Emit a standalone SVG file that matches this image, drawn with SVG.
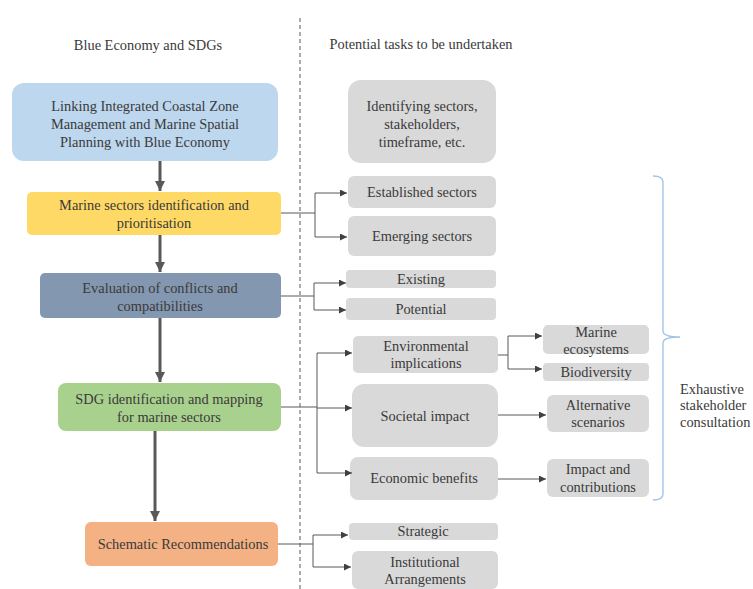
<svg xmlns="http://www.w3.org/2000/svg" width="753" height="589" viewBox="0 0 753 589">
<style>
text{font-family:'Liberation Serif','Times New Roman',serif;font-size:14.4px;fill:#3a3a3a;text-anchor:middle}
.s{text-anchor:start}
.g{fill:#d9d9d9}
.c{fill:none;stroke:#595959;stroke-width:1}
.t{fill:none;stroke:#595959;stroke-width:3}
</style>
<defs>
<marker id="a" viewBox="0 0 10 10" refX="10" refY="5" markerWidth="7" markerHeight="7" markerUnits="userSpaceOnUse" orient="auto"><path d="M0,0L10,5L0,10z" fill="#404040"/></marker>
<marker id="b" viewBox="0 0 10 10" refX="10" refY="5" markerWidth="10" markerHeight="10" markerUnits="userSpaceOnUse" orient="auto"><path d="M0,0L10,5L0,10z" fill="#595959"/></marker>
</defs>
<rect width="753" height="589" fill="#fff"/>
<line x1="300" y1="18" x2="300" y2="589" stroke="#595959" stroke-width="1" stroke-dasharray="4,3"/>
<text x="148" y="50">Blue Economy and SDGs</text>
<text x="421" y="49">Potential tasks to be undertaken</text>

<g id="n1"><rect x="12" y="83" width="266" height="78" rx="12" fill="#bdd7ee"/><text x="145" y="111">Linking Integrated Coastal Zone</text><text x="145" y="129">Management and Marine Spatial</text><text x="145" y="147">Planning with Blue Economy</text></g>
<g id="n2"><rect x="27" y="192" width="254" height="43" rx="5" fill="#ffd966"/><text x="154" y="210">Marine sectors identification and</text><text x="154" y="228">prioritisation</text></g>
<g id="n3"><rect x="40" y="273" width="241" height="45" rx="5" fill="#8497b0"/><text x="160" y="293">Evaluation of conflicts and</text><text x="160" y="311">compatibilities</text></g>
<g id="n4"><rect x="58" y="383" width="223" height="48" rx="8" fill="#a9d18e"/><text x="169" y="404">SDG identification and mapping</text><text x="169" y="422">for marine sectors</text></g>
<g id="n5"><rect x="85" y="522" width="193" height="44" rx="6" fill="#f4b183"/><text x="183" y="549">Schematic Recommendations</text></g>

<g id="r0"><rect class="g" x="348" y="80" width="148" height="83" rx="13"/><text x="422" y="111">Identifying sectors,</text><text x="422" y="129">stakeholders,</text><text x="422" y="147">timeframe, etc.</text></g>
<g id="r1"><rect class="g" x="348" y="176" width="148" height="32" rx="6"/><text x="422" y="197">Established sectors</text></g>
<g id="r2"><rect class="g" x="348" y="216" width="148" height="40" rx="6"/><text x="422" y="241">Emerging sectors</text></g>
<g id="r3"><rect class="g" x="346" y="270" width="150" height="18" rx="4"/><text x="421" y="284">Existing</text></g>
<g id="r4"><rect class="g" x="346" y="298" width="150" height="22" rx="4"/><text x="421" y="314">Potential</text></g>
<g id="r5"><rect class="g" x="353" y="336" width="145" height="37" rx="5"/><text x="426" y="351">Environmental</text><text x="426" y="368">implications</text></g>
<g id="r6"><rect class="g" x="352" y="384" width="146" height="63" rx="12"/><text x="425" y="421">Societal impact</text></g>
<g id="r7"><rect class="g" x="350" y="457" width="148" height="43" rx="8"/><text x="424" y="483">Economic benefits</text></g>
<g id="r8"><rect class="g" x="543" y="325" width="106" height="29" rx="5"/><text x="596" y="337">Marine</text><text x="596" y="354">ecosystems</text></g>
<g id="r9"><rect class="g" x="543" y="363" width="106" height="18" rx="4"/><text x="596" y="377">Biodiversity</text></g>
<g id="r10"><rect class="g" x="547" y="395" width="102" height="37" rx="6"/><text x="598" y="410">Alternative</text><text x="598" y="427">scenarios</text></g>
<g id="r11"><rect class="g" x="547" y="459" width="102" height="38" rx="6"/><text x="598" y="474">Impact and</text><text x="598" y="492">contributions</text></g>
<g id="r12"><rect class="g" x="349" y="523" width="149" height="17" rx="4"/><text x="423" y="536">Strategic</text></g>
<g id="r13"><rect class="g" x="352" y="551" width="146" height="38" rx="6"/><text x="425" y="567">Institutional</text><text x="425" y="584">Arrangements</text></g>

<g id="brace"><path d="M653,176 Q663,176 663,182 L663,331 Q663,337 680,337 Q663,337 663,343 L663,494 Q663,500 653,500" fill="none" stroke="#9dc3e6" stroke-width="1.3"/><text class="s" x="680" y="394">Exhaustive</text><text class="s" x="680" y="410">stakeholder</text><text class="s" x="680" y="427">consultation</text></g>

<g id="connectors">
<line class="t" x1="160" y1="161" x2="160" y2="191" marker-end="url(#b)"/>
<line class="t" x1="160" y1="235" x2="160" y2="272" marker-end="url(#b)"/>
<line class="t" x1="160" y1="318" x2="160" y2="382" marker-end="url(#b)"/>
<line class="t" x1="155" y1="431" x2="155" y2="521" marker-end="url(#b)"/>
<path class="c" d="M281,213H315V193H347" marker-end="url(#a)"/>
<path class="c" d="M315,213V237H347" marker-end="url(#a)"/>
<path class="c" d="M281,296H314V283H346" marker-end="url(#a)"/>
<path class="c" d="M314,296V310H346" marker-end="url(#a)"/>
<path class="c" d="M281,407H317V353H352" marker-end="url(#a)"/>
<path class="c" d="M317,407V473H352" marker-end="url(#a)"/>
<path class="c" d="M317,408H352" marker-end="url(#a)"/>
<path class="c" d="M498,355H508V336H542" marker-end="url(#a)"/>
<path class="c" d="M508,355V369H542" marker-end="url(#a)"/>
<path class="c" d="M498,415H546" marker-end="url(#a)"/>
<path class="c" d="M498,479H546" marker-end="url(#a)"/>
<path class="c" d="M278,544H313V535H348" marker-end="url(#a)"/>
<path class="c" d="M313,544V567H351" marker-end="url(#a)"/>
</g>
</svg>
